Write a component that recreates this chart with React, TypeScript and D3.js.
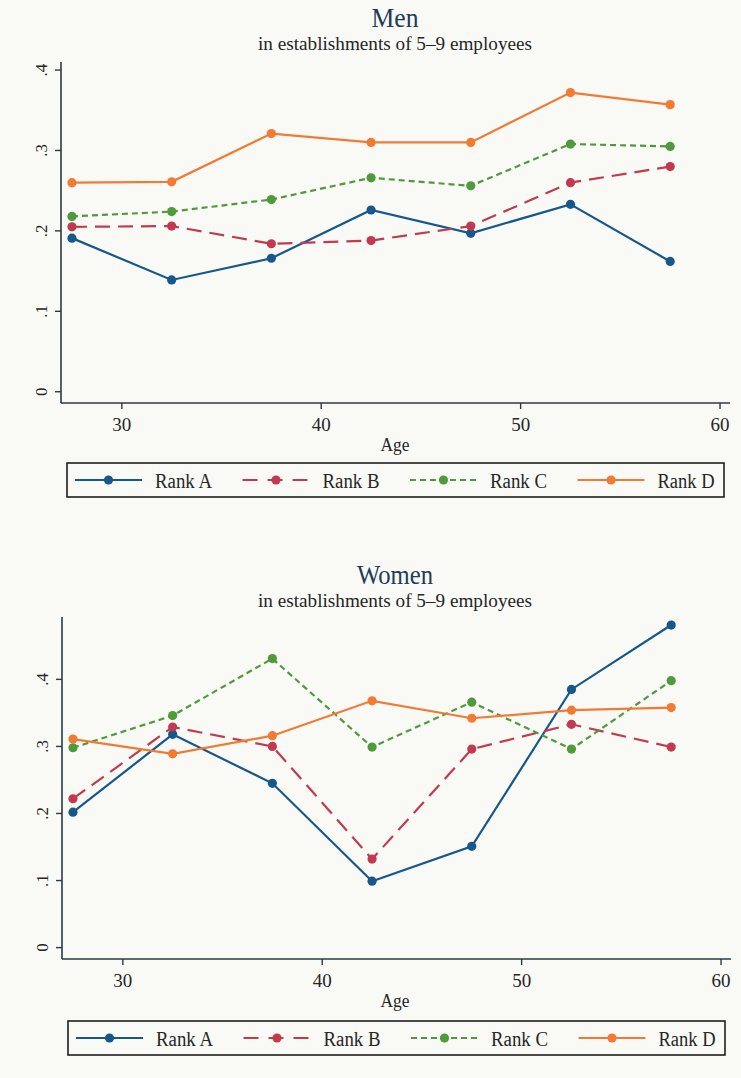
import React from "react";
import * as d3 from "d3";

const ages = [27.5, 32.5, 37.5, 42.5, 47.5, 52.5, 57.5];
const xTicks = [30, 40, 50, 60];
const seriesNames = ["Rank A", "Rank B", "Rank C", "Rank D"];

const menRankA = [0.191, 0.139, 0.166, 0.226, 0.197, 0.233, 0.162];
const menRankB = [0.205, 0.206, 0.184, 0.188, 0.206, 0.260, 0.280];
const menRankC = [0.218, 0.224, 0.239, 0.266, 0.256, 0.308, 0.305];
const menRankD = [0.260, 0.261, 0.321, 0.310, 0.310, 0.372, 0.357];
const menYTicks = [0, 0.1, 0.2, 0.3, 0.4];

const womenRankA = [0.202, 0.318, 0.245, 0.099, 0.151, 0.385, 0.481];
const womenRankB = [0.222, 0.329, 0.300, 0.132, 0.296, 0.333, 0.299];
const womenRankC = [0.298, 0.346, 0.431, 0.299, 0.366, 0.296, 0.398];
const womenRankD = [0.311, 0.289, 0.316, 0.368, 0.342, 0.354, 0.358];
const womenYTicks = [0, 0.1, 0.2, 0.3, 0.4];

const COLORS = ["#17588c", "#c23a4f", "#4f9a3b", "#f27a33"];
const DASHES = ["none", "15 8", "6 4", "none"];
const FONT = "'Liberation Serif', 'DejaVu Serif', serif";
const TEXT = "#262626";
const AXIS = "#2d3a40";

const fmt = (v: number) => (v === 0 ? "0" : d3.format(".1f")(v).replace(/^0/, ""));

type PanelProps = {
  title: string;
  titleLen: number;
  series: number[][];
  yTicks: number[];
  yDomain: [number, number];
  top: number;
  bottom: number;
  left: number;
  titleY: number;
  legendTop: number;
  legendLeft: number;
};

function Panel(p: PanelProps) {
  const x = d3.scaleLinear().domain([26.95, 60.5]).range([p.left, p.left + 669]);
  const y = d3.scaleLinear().domain(p.yDomain).range([p.bottom, p.top]);
  const line = d3
    .line<number>()
    .x((_, i) => x(ages[i]))
    .y((d) => y(d));
  const xEnd = x.range()[1];
  return (
    <g>
      <text x={395} y={p.titleY} fontFamily={FONT} fontSize={27} fill="#1e3b58" textAnchor="middle" textLength={p.titleLen} lengthAdjust="spacingAndGlyphs">
        {p.title}
      </text>
      <text x={395} y={p.titleY + 23} fontFamily={FONT} fontSize={18} fill={TEXT} textAnchor="middle" textLength={274} lengthAdjust="spacingAndGlyphs">
        in establishments of 5–9 employees
      </text>
      <line x1={p.left} x2={p.left} y1={p.top} y2={p.bottom} stroke={AXIS} strokeWidth={1.6} />
      {p.yTicks.map((t) => (
        <g key={"yt" + t}>
          <line x1={p.left - 6} x2={p.left} y1={y(t)} y2={y(t)} stroke={AXIS} strokeWidth={1.4} />
          <text
            transform={`translate(${p.left - 14},${y(t)}) rotate(-90)`}
            fontFamily={FONT}
            fontSize={17}
            fill={TEXT}
            textAnchor="middle"
          >
            {fmt(t)}
          </text>
        </g>
      ))}
      <line x1={p.left} x2={xEnd} y1={p.bottom} y2={p.bottom} stroke={AXIS} strokeWidth={1.6} />
      {xTicks.map((t) => (
        <g key={"xt" + t}>
          <line x1={x(t)} x2={x(t)} y1={p.bottom} y2={p.bottom + 6} stroke={AXIS} strokeWidth={1.4} />
          <text x={x(t)} y={p.bottom + 28} fontFamily={FONT} fontSize={19} fill={TEXT} textAnchor="middle" textLength={19} lengthAdjust="spacingAndGlyphs">
            {t}
          </text>
        </g>
      ))}
      <text x={395} y={p.bottom + 48} fontFamily={FONT} fontSize={18} fill={TEXT} textAnchor="middle" textLength={29} lengthAdjust="spacingAndGlyphs">
        Age
      </text>
      {p.series.map((s, k) => (
        <g key={"s" + k}>
          <path d={line(s) || ""} fill="none" stroke={COLORS[k]} strokeWidth={2.2} strokeDasharray={DASHES[k]} />
          {s.map((v, i) => (
            <circle key={i} cx={x(ages[i])} cy={y(v)} r={4.6} fill={COLORS[k]} />
          ))}
        </g>
      ))}
      <rect x={p.legendLeft} y={p.legendTop} width={657} height={34} fill="none" stroke="#1f1f1f" strokeWidth={1.6} />
      {seriesNames.map((n, k) => {
        const sx = p.legendLeft + 8 + k * 167.5;
        const cy = p.legendTop + 17;
        return (
          <g key={"lg" + k}>
            <line x1={sx} x2={sx + 67} y1={cy} y2={cy} stroke={COLORS[k]} strokeWidth={2.2} strokeDasharray={k === 1 ? "15 10" : DASHES[k]} />
            <circle cx={sx + 33.5} cy={cy} r={4.6} fill={COLORS[k]} />
            <text x={sx + 80} y={cy + 8} fontFamily={FONT} fontSize={20} fill={TEXT} textLength={57} lengthAdjust="spacingAndGlyphs">
              {n}
            </text>
          </g>
        );
      })}
    </g>
  );
}

export default function App() {
  return (
    <svg width={741} height={1078} style={{ position: "absolute", left: 0, top: 0 }}>
      <rect x={0} y={0} width={741} height={1078} fill="#f9faf6" />
      <Panel
        title="Men"
        titleLen={47}
        series={[menRankA, menRankB, menRankC, menRankD]}
        yTicks={menYTicks}
        yDomain={[-0.014, 0.41]}
        top={62}
        bottom={403}
        left={61}
        titleY={27}
        legendTop={463}
        legendLeft={67}
      />
      <Panel
        title="Women"
        titleLen={76}
        series={[womenRankA, womenRankB, womenRankC, womenRankD]}
        yTicks={womenYTicks}
        yDomain={[-0.017, 0.493]}
        top={617}
        bottom={959}
        left={62}
        titleY={584}
        legendTop={1021}
        legendLeft={68}
      />
    </svg>
  );
}
